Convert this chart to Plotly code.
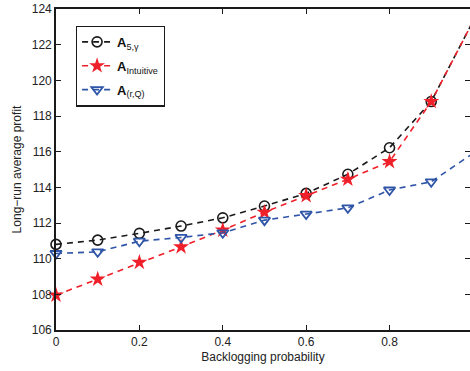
import plotly.graph_objects as go

# Backlogging probability (x) and long-run average profit per policy
backlog_prob = [0.0, 0.1, 0.2, 0.3, 0.4, 0.5, 0.6, 0.7, 0.8, 0.9, 1.0]
profit_a5 = [110.8, 111.04, 111.42, 111.83, 112.29, 112.95, 113.66, 114.73, 116.22, 118.81, 123.3]
profit_intuitive = [107.95, 108.85, 109.79, 110.66, 111.6, 112.6, 113.53, 114.45, 115.44, 118.81, 123.3]
profit_rq = [110.29, 110.38, 110.98, 111.19, 111.45, 112.16, 112.5, 112.85, 113.85, 114.31, 115.9]

y_ticks = [106, 108, 110, 112, 114, 116, 118, 120, 122, 124]
x_ticks = [0, 0.2, 0.4, 0.6, 0.8, 1]

BLACK = "#1a1a1a"
RED = "#f0202a"
BLUE = "#2f55a8"
FONT = "Liberation Sans, Arial, sans-serif"

fig = go.Figure()

fig.add_trace(go.Scatter(
    x=backlog_prob, y=profit_a5, mode="lines+markers",
    name="<b>A</b><sub>5,γ</sub>", legendgroup="a5",
    line=dict(color=BLACK, width=1.6, dash="6px,5px"),
    marker=dict(symbol="circle-open", size=10, color=BLACK, line=dict(width=1.6)),
    cliponaxis=False,
))
fig.add_trace(go.Scatter(
    x=backlog_prob, y=profit_intuitive, mode="lines+markers",
    name="<b>A</b><sub>Intuitive</sub>", legendgroup="intuitive",
    line=dict(color=RED, width=1.6, dash="6px,5px"),
    marker=dict(symbol="star", size=12, color=RED, line=dict(width=0)),
    cliponaxis=False,
))
fig.add_trace(go.Scatter(
    x=backlog_prob, y=profit_rq, mode="lines+markers",
    name="<b>A</b><sub>(r,Q)</sub>", legendgroup="rq",
    line=dict(color=BLUE, width=1.6, dash="6px,5px"),
    marker=dict(symbol="triangle-down-open", size=10, color=BLUE, line=dict(width=1.8)),
    cliponaxis=False,
))
# invisible trace so the right-hand tick axis is rendered
fig.add_trace(go.Scatter(x=[0], y=[115], yaxis="y2", mode="markers",
                         marker=dict(opacity=0), showlegend=False, hoverinfo="skip"))

fig.update_layout(
    width=470, height=371,
    margin=dict(l=56, r=0, t=9, b=41),
    paper_bgcolor="white", plot_bgcolor="white",
    font=dict(family=FONT, size=12, color="#222222"),
    showlegend=True,
    legend=dict(
        x=0.048, y=0.948, xanchor="left", yanchor="top",
        bgcolor="white", bordercolor=BLACK, borderwidth=1.2,
        font=dict(family=FONT, size=13, color="#111111"),
        itemwidth=30, tracegroupgap=4,
    ),
    xaxis=dict(
        range=[0, 0.993], tickvals=x_ticks, ticktext=["0", "0.2", "0.4", "0.6", "0.8", "1"],
        showgrid=False, zeroline=False,
        showline=True, linecolor=BLACK, linewidth=1.6, mirror="ticks",
        ticks="inside", ticklen=5, tickcolor=BLACK, tickwidth=1,
        title=dict(text="Backlogging probability", font=dict(size=12), standoff=4),
        tickfont=dict(size=12),
    ),
    yaxis=dict(
        range=[106, 124], tickvals=y_ticks,
        showgrid=False, zeroline=False,
        showline=True, linecolor=BLACK, linewidth=1.6,
        ticks="inside", ticklen=5, tickcolor=BLACK, tickwidth=1,
        title=dict(text="Long−run average profit", font=dict(size=12), standoff=8),
        tickfont=dict(size=12),
    ),
    yaxis2=dict(
        range=[106, 124], tickvals=y_ticks, overlaying="y", side="right",
        showgrid=False, zeroline=False, showline=False, showticklabels=False,
        ticks="inside", ticklen=5, tickcolor=BLACK, tickwidth=1,
    ),
)

fig.write_html("out.html")
